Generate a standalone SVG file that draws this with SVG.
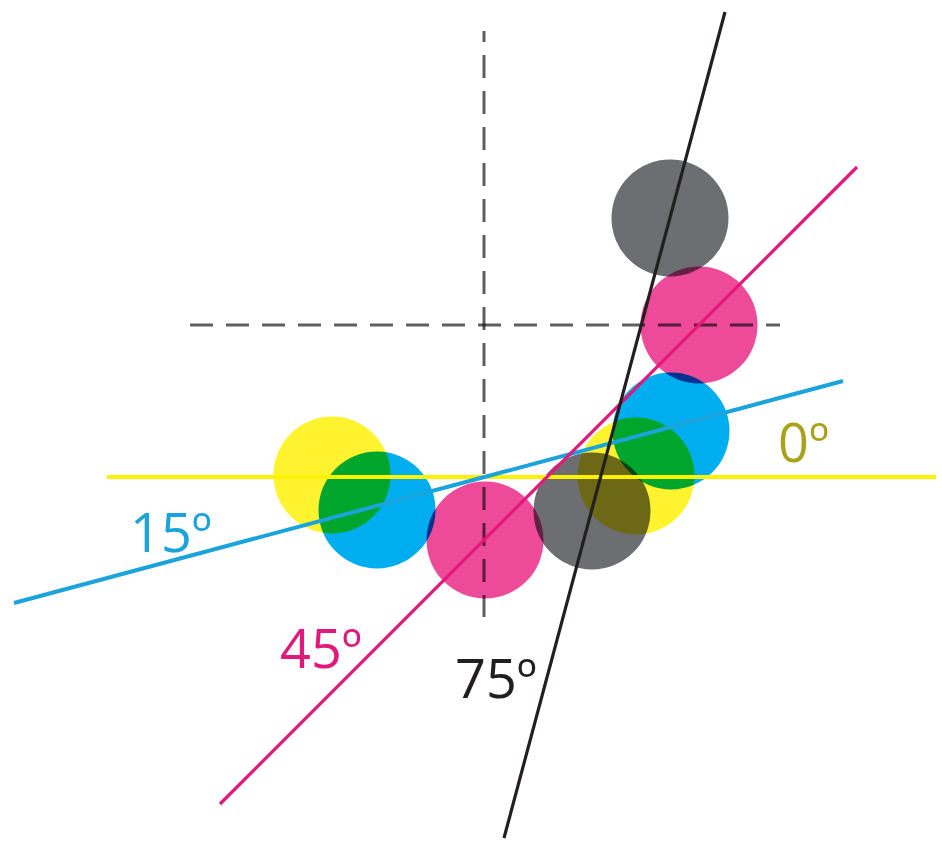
<svg xmlns="http://www.w3.org/2000/svg" width="942" height="844" viewBox="0 0 942 844">
<style>
.dot{mix-blend-mode:multiply}
.y{fill:#fff22e}
.c{fill:#00aeef}
.m{fill:#ed4a99}
.k{fill:#6d6e71}
.dash{stroke:#5e5f61;stroke-width:3;stroke-dasharray:23 13;fill:none;mix-blend-mode:multiply}
.ln{fill:none;stroke-linecap:butt}
.lbl{font-family:"Open Sans","Noto Sans","Liberation Sans",sans-serif;font-size:54px}
</style>
<rect width="942" height="844" fill="#ffffff"/>
<g id="dots" style="isolation:isolate">
<circle id="k30" class="dot k" cx="670" cy="218" r="58.5"/>
<circle id="m0" class="dot m" cx="699" cy="325" r="58.5"/>
<circle id="c-30" class="dot c" cx="671" cy="431" r="58.5"/>
<circle id="y-45" class="dot y" cx="636" cy="476" r="58.5"/>
<circle id="k-60" class="dot k" cx="592" cy="511" r="58.5"/>
<circle id="m-90" class="dot m" cx="485" cy="540" r="58.5"/>
<circle id="c-120" class="dot c" cx="377" cy="510" r="58.5"/>
<circle id="y-135" class="dot y" cx="332" cy="475" r="58.5"/>
<line class="dash" x1="484" y1="31" x2="484" y2="617" stroke-dashoffset="12"/>
<line class="dash" x1="190" y1="325" x2="780" y2="325"/>
</g>
<g id="connectors">
<line class="ln" x1="107" y1="477" x2="936" y2="477" stroke="#fff200" stroke-width="4"/>
<line class="ln" x1="14" y1="603" x2="843" y2="381" stroke="#1ba3dc" stroke-width="4"/>
<line class="ln" x1="220" y1="804" x2="857" y2="167" stroke="#e5177b" stroke-width="3.2"/>
<line class="ln" x1="504" y1="838" x2="725" y2="12" stroke="#231f20" stroke-width="3.2"/>
</g>
<g id="labels">
<text id="t0" class="lbl" x="778" y="462" fill="#a9a21b">0º</text>
<text id="t15" class="lbl" x="130" y="552" fill="#1ba3dc">15º</text>
<text id="t45" class="lbl" x="280" y="668" fill="#e0197d">45º</text>
<text id="t75" class="lbl" x="455" y="698" fill="#231f20">75º</text>
</g>
</svg>
